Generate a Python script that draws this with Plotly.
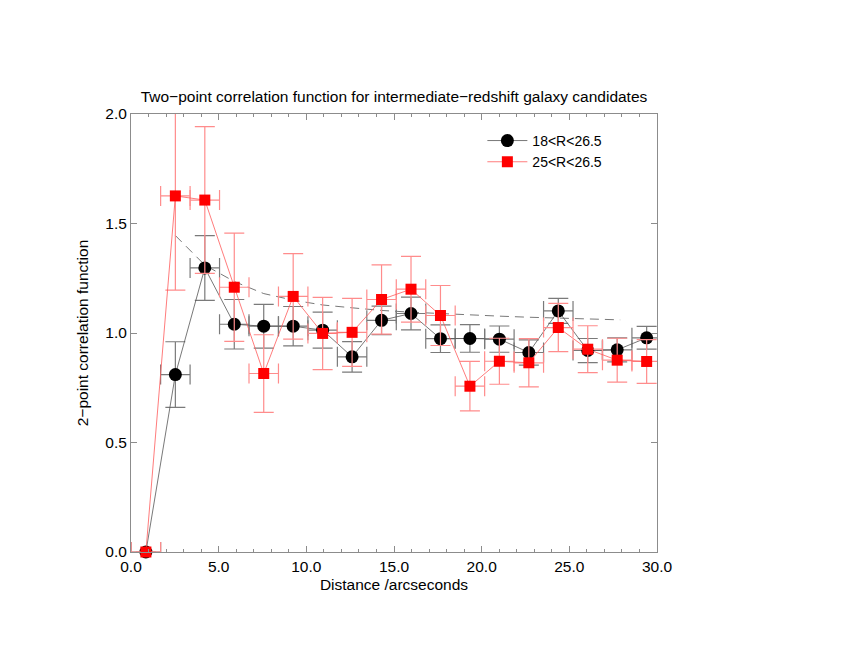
import plotly.graph_objects as go

# bin centres (arcsec) and bin half-width
distance = [0.85, 2.53, 4.21, 5.89, 7.57, 9.25, 10.93, 12.61, 14.29,
            15.97, 17.65, 19.33, 21.01, 22.69, 24.37, 26.05, 27.73, 29.41]
bin_half = [0.84] * len(distance)

# 18<R<26.5
w_all = [0.0, 0.81, 1.297, 1.04, 1.031, 1.031, 1.013, 0.891, 1.058,
         1.089, 0.974, 0.975, 0.972, 0.911, 1.101, 0.92, 0.923, 0.978]
w_all_err = [0.0, 0.15, 0.148, 0.113, 0.1, 0.09, 0.082, 0.07, 0.065,
             0.075, 0.063, 0.063, 0.06, 0.058, 0.057, 0.055, 0.055, 0.052]

# 25<R<26.5
w_faint = [0.0, 1.626, 1.607, 1.209, 0.815, 1.167, 0.998, 1.003, 1.153,
           1.2, 1.08, 0.757, 0.871, 0.864, 1.025, 0.926, 0.876, 0.87]
w_faint_err = [0.0, 0.43, 0.335, 0.247, 0.177, 0.195, 0.165, 0.155, 0.158,
               0.15, 0.137, 0.113, 0.105, 0.11, 0.11, 0.107, 0.1, 0.1]

# dashed fit curve
fit_x = [2.53, 4.21, 5.89, 7.57, 9.25, 10.93, 12.61, 14.29, 15.97,
         17.65, 19.33, 21.01, 22.69, 24.37, 26.05, 27.9]
fit_y = [1.445, 1.31, 1.235, 1.18, 1.15, 1.128, 1.115, 1.103, 1.095,
         1.088, 1.082, 1.077, 1.072, 1.068, 1.064, 1.06]

fig = go.Figure()

fig.add_trace(go.Scatter(x=fit_x, y=fit_y, mode="lines", showlegend=False,
                         line=dict(color="#555555", width=0.8, dash="9px,6px")))

fig.add_trace(go.Scatter(
    x=distance, y=w_all, name="18<R<26.5", mode="lines+markers",
    line=dict(color="#555555", width=0.8),
    marker=dict(symbol="circle", size=13, color="black"),
    error_y=dict(type="data", array=w_all_err, color="#7a7a7a", thickness=1.2, width=10),
    error_x=dict(type="data", array=bin_half, color="#7a7a7a", thickness=1.2, width=10),
    cliponaxis=False))

fig.add_trace(go.Scatter(
    x=distance, y=w_faint, name="25<R<26.5", mode="lines+markers",
    line=dict(color="#ff5a5a", width=0.8),
    marker=dict(symbol="square", size=11, color="#ff0000"),
    error_y=dict(type="data", array=w_faint_err, color="#ff8c8c", thickness=1.2, width=10),
    error_x=dict(type="data", array=bin_half, color="#ff8c8c", thickness=1.2, width=10),
    cliponaxis=False))

axis_style = dict(showline=True, linecolor="#8c8c8c", linewidth=1, mirror="ticks",
                  ticks="inside", tickcolor="#8c8c8c", showgrid=False, zeroline=False,
                  tickfont=dict(size=15.5, color="black"))

fig.update_xaxes(range=[0, 30], dtick=5, tickformat=".1f", ticklen=6,
                 minor=dict(dtick=1, ticks="inside", ticklen=3, tickcolor="#8c8c8c"),
                 title=dict(text="Distance /arcseconds", font=dict(size=15.5, color="black"),
                            standoff=5),
                 **axis_style)
fig.update_yaxes(range=[0, 2], dtick=0.5, tickformat=".1f", ticklen=6,
                 title=dict(text="2−point correlation function", font=dict(size=15.5, color="black"),
                            standoff=12),
                 **axis_style)

fig.update_layout(
    width=860, height=664,
    margin=dict(l=123, r=211, t=106, b=120),
    paper_bgcolor="white", plot_bgcolor="white",
    font=dict(family="Liberation Sans, Arial, sans-serif", color="black"),
    title=dict(text="Two−point correlation function for intermediate−redshift galaxy candidates",
               font=dict(size=15.5, color="black"), x=0.5, xanchor="center",
               xref="paper", y=0.866, yanchor="middle"),
    legend=dict(x=0.668, y=0.975, xanchor="left", yanchor="top",
                bgcolor="rgba(0,0,0,0)", font=dict(size=14, color="black"),
                itemwidth=40, tracegroupgap=0),
)

fig.write_html("out.html")
